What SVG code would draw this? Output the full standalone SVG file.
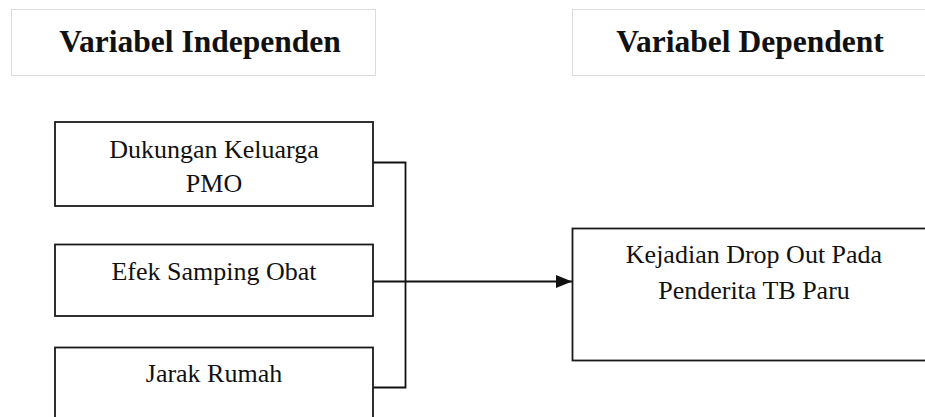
<svg xmlns="http://www.w3.org/2000/svg" width="925" height="417" viewBox="0 0 925 417">
  <style>
    .hdr { fill: #ffffff; stroke: #dcdcdc; stroke-width: 1; }
    .title { font-family: "Liberation Serif", "Times New Roman", serif; font-weight: bold; font-size: 31.5px; fill: #111; text-anchor: middle; }
    .box { fill: #ffffff; stroke: #1a1a1a; stroke-width: 1.8; }
    .lbl { font-family: "Liberation Serif", "Times New Roman", serif; font-size: 26px; fill: #111; text-anchor: middle; }
    .wire { fill: none; stroke: #111; stroke-width: 1.8; }
  </style>
  <defs>
    <marker id="arrow" markerWidth="16" markerHeight="13" refX="16" refY="6.5" orient="auto" markerUnits="userSpaceOnUse" viewBox="0 0 16 13">
      <path d="M0,0 L16,6.5 L0,13 Z" fill="#111"/>
    </marker>
  </defs>
  <rect width="925" height="417" fill="#ffffff"/>

  <g id="header-independen">
    <rect class="hdr" x="11.5" y="9.5" width="364" height="66"/>
    <text class="title" x="200" y="52">Variabel Independen</text>
  </g>
  <g id="header-dependent">
    <rect class="hdr" x="572.5" y="9.5" width="360" height="66"/>
    <text class="title" x="750" y="52">Variabel Dependent</text>
  </g>

  <g id="connectors">
    <polyline class="wire" points="373,162.5 405.5,162.5 405.5,387.5 373,387.5"/>
    <line class="wire" x1="373" y1="281.5" x2="572" y2="281.5" marker-end="url(#arrow)"/>
  </g>

  <g id="node-dukungan">
    <rect class="box" x="55" y="122" width="318" height="84"/>
    <text class="lbl" x="214" y="158">Dukungan Keluarga</text>
    <text class="lbl" x="214" y="192">PMO</text>
  </g>
  <g id="node-efek">
    <rect class="box" x="55" y="244.5" width="318" height="71.5"/>
    <text class="lbl" x="214" y="280">Efek Samping Obat</text>
  </g>
  <g id="node-jarak">
    <rect class="box" x="55" y="347.5" width="318" height="90"/>
    <text class="lbl" x="214" y="382">Jarak Rumah</text>
  </g>
  <g id="node-kejadian">
    <rect class="box" x="572.5" y="228.5" width="380" height="132"/>
    <text class="lbl" x="754" y="263">Kejadian Drop Out Pada</text>
    <text class="lbl" x="754" y="299">Penderita TB Paru</text>
  </g>
</svg>
